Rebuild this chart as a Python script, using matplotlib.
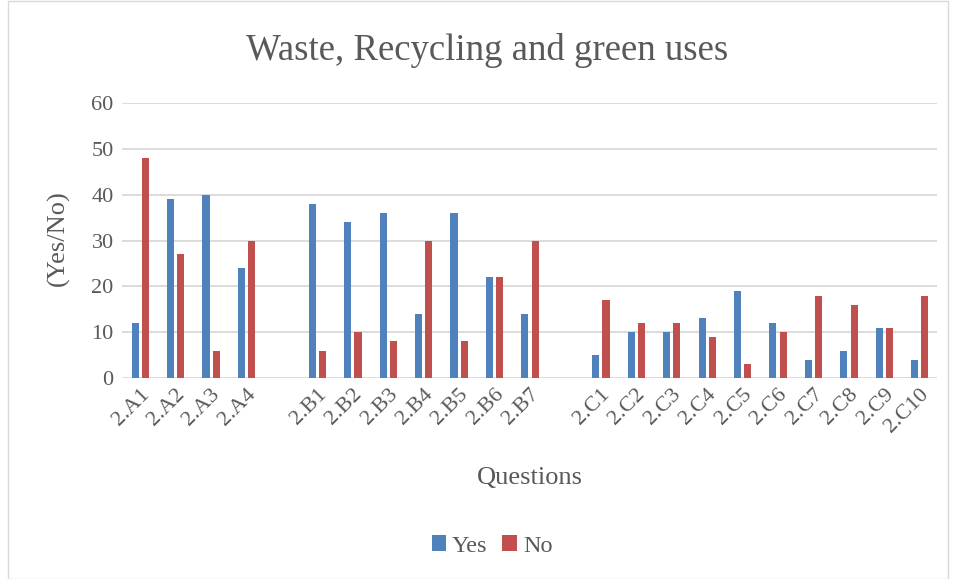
import matplotlib.pyplot as plt
import matplotlib.patches as patches
import numpy as np

plt.rcParams['font.family'] = ['Liberation Serif', 'DejaVu Serif']

# categories, empty strings are the gaps between groups
labels = ['2.A1', '2.A2', '2.A3', '2.A4', '',
          '2.B1', '2.B2', '2.B3', '2.B4', '2.B5', '2.B6', '2.B7', '',
          '2.C1', '2.C2', '2.C3', '2.C4', '2.C5', '2.C6', '2.C7', '2.C8', '2.C9', '2.C10']
yes = [12, 39, 40, 24, np.nan,
       38, 34, 36, 14, 36, 22, 14, np.nan,
       5, 10, 10, 13, 19, 12, 4, 6, 11, 4]
no = [48, 27, 6, 30, np.nan,
      6, 10, 8, 30, 8, 22, 30, np.nan,
      17, 12, 12, 9, 3, 10, 18, 16, 11, 18]

txt = '#595959'
W, H = 956, 579
fig = plt.figure(figsize=(W / 100, H / 100), dpi=100)
ax = fig.add_axes([122 / W, 1 - 378 / H, 815 / W, 275 / H])

x = np.arange(len(labels))
w = 0.2
ax.bar(x - 0.13, yes, w, color='#4f81bd', label='Yes', zorder=3)
ax.bar(x + 0.16, no, w, color='#c0504d', label='No', zorder=3)

ax.set_ylim(0, 60)
ax.set_xlim(-0.5, len(labels) - 0.5)
ax.set_yticks(range(0, 61, 10))
ax.yaxis.grid(True, color='#d9d9d9', lw=1.3, zorder=0)
for s in ax.spines.values():
    s.set_visible(False)
ax.tick_params(axis='both', length=0, labelsize=16, colors=txt)
ax.tick_params(axis='y', pad=6)
ax.set_xticks(x)
ax.set_xticklabels(labels, rotation=45, ha='right', rotation_mode='anchor')
ax.tick_params(axis='x', pad=5)

# titles placed in pixel terms
fig.text(487 / W, 1 - 51 / H, 'Waste, Recycling and green uses', fontsize=26.5,
         color=txt, ha='center', va='center')
fig.text(58 / W, 1 - 238 / H, '(Yes/No)', fontsize=19, color=txt,
         rotation=90, ha='center', va='center')
fig.text(530 / W, 1 - 478 / H, 'Questions', fontsize=19, color=txt,
         ha='center', va='center')

fig.legend(loc='center', bbox_to_anchor=(492 / W, 1 - 546 / H), ncol=2, frameon=False,
           fontsize=17.5, labelcolor=txt, handlelength=0.6, handleheight=0.6,
           handletextpad=0.25, columnspacing=0.6)

fig.patches.append(patches.Rectangle((8 / W, 0), 940 / W, 0.999, transform=fig.transFigure,
                                     fill=False, edgecolor='#d9d9d9', lw=1))

fig.savefig('out.png')
